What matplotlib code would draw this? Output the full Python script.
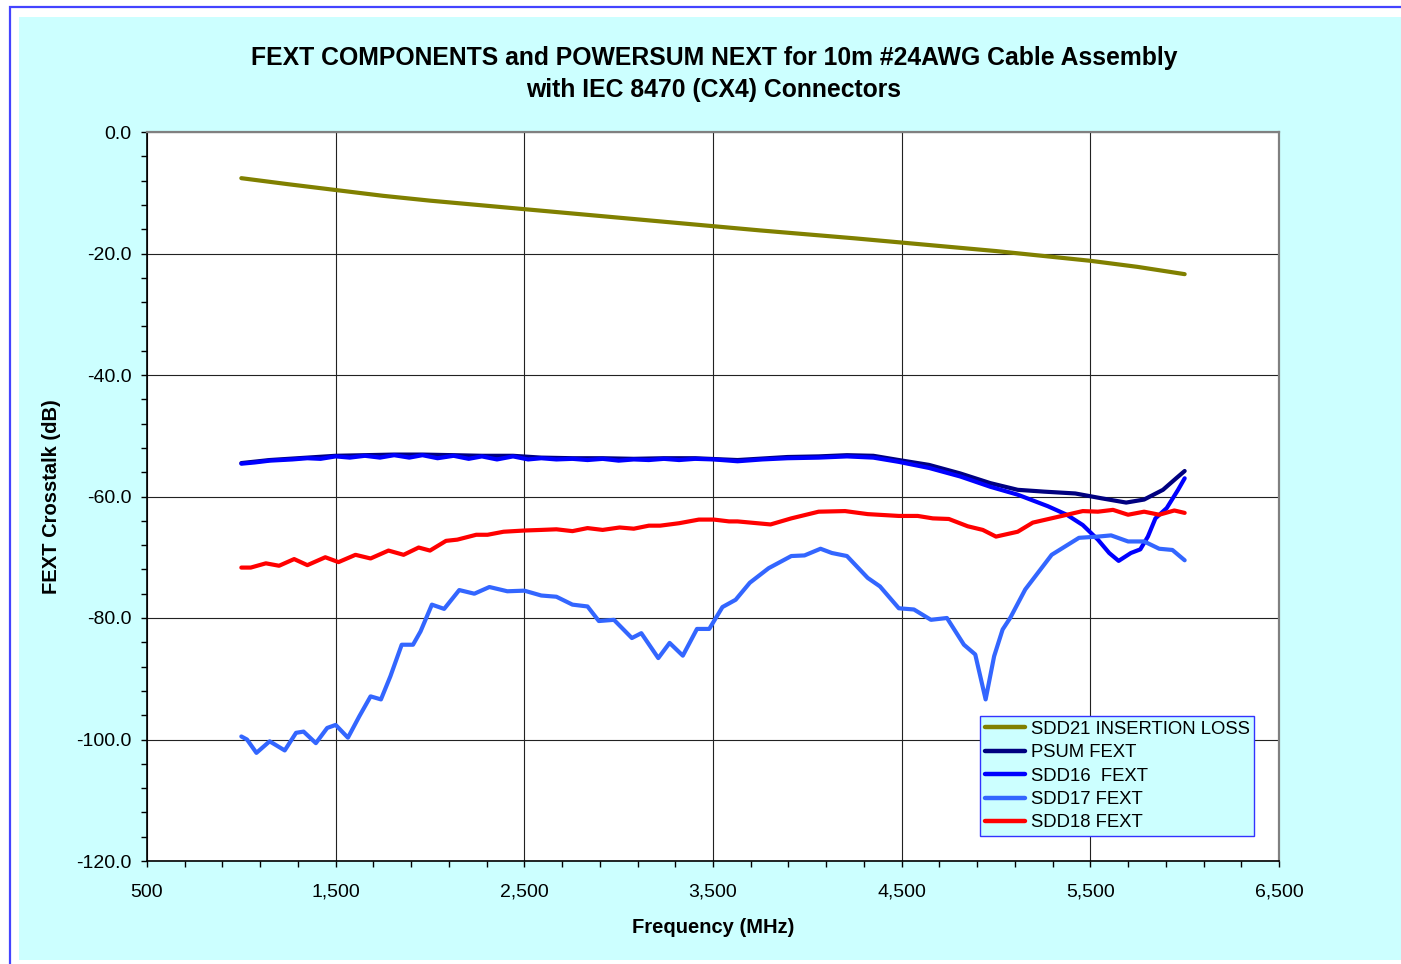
import matplotlib
matplotlib.use("Agg")
import matplotlib.pyplot as plt
from matplotlib.patches import Rectangle
import numpy as np

plt.rcParams.update({
    "font.family": ["Liberation Sans", "DejaVu Sans"],
    "font.size": 14,
})

# values
il_mhz = [1000, 1250, 1500, 1750, 2000, 2250, 2500, 2750, 3000, 3250, 3500,
          3750, 4000, 4250, 4500, 4750, 5000, 5250, 5500, 5750, 6000]
il_db = [-7.6, -8.6, -9.55, -10.5, -11.3, -12.0, -12.7, -13.4, -14.1, -14.8, -15.5,
         -16.2, -16.85, -17.5, -18.2, -18.9, -19.6, -20.4, -21.2, -22.2, -23.4]

psum_mhz = [1000, 1150, 1350, 1500, 1655, 1810, 1960, 2125, 2275, 2440,
            2590, 2755, 2915, 3080, 3240, 3405, 3630, 3895, 4060, 4210,
            4350, 4485, 4645, 4810, 4970, 5115, 5255, 5420, 5560, 5690,
            5785, 5885, 5955, 6000]
psum_db = [-54.5, -54.0, -53.6, -53.3, -53.2, -53.1, -53.1, -53.2, -53.3, -53.3,
           -53.6, -53.7, -53.7, -53.8, -53.7, -53.7, -54.0, -53.5, -53.4, -53.2,
           -53.3, -54.0, -54.8, -56.2, -57.8, -58.9, -59.2, -59.5, -60.3, -61.0,
           -60.5, -58.9, -57.0, -55.8]

sdd16_mhz = [1000, 1070, 1150, 1270, 1350, 1420, 1500, 1575, 1655, 1735,
             1810, 1890, 1960, 2040, 2125, 2205, 2275, 2355, 2440, 2520,
             2590, 2670, 2755, 2835, 2915, 3000, 3080, 3160, 3240, 3320,
             3405, 3505, 3630, 3760, 3895, 4060, 4210, 4350, 4485, 4645,
             4810, 4970, 5115, 5275, 5375, 5460, 5540, 5600, 5650, 5715,
             5765, 5805, 5845, 5905, 5965, 6000]
sdd16_db = [-54.6, -54.4, -54.1, -53.9, -53.7, -53.8, -53.4, -53.6, -53.3, -53.6,
            -53.2, -53.6, -53.2, -53.7, -53.3, -53.8, -53.4, -53.9, -53.4, -53.9,
            -53.7, -53.9, -53.8, -54.0, -53.8, -54.1, -53.9, -54.0, -53.8, -54.0,
            -53.8, -53.9, -54.2, -53.9, -53.7, -53.6, -53.4, -53.6, -54.3, -55.3,
            -56.7, -58.4, -59.7, -61.6, -63.0, -64.7, -67.1, -69.3, -70.6, -69.3,
            -68.7, -66.6, -63.6, -61.9, -58.9, -57.0]

sdd17_mhz = [1000, 1030, 1080, 1150, 1230, 1290, 1330, 1395, 1455, 1500,
             1565, 1625, 1685, 1740, 1790, 1850, 1910, 1950, 2010, 2075,
             2155, 2235, 2315, 2410, 2500, 2590, 2670, 2755, 2835, 2895,
             2975, 3070, 3120, 3210, 3270, 3340, 3415, 3480, 3550, 3620,
             3695, 3795, 3915, 3985, 4070, 4130, 4210, 4320, 4385, 4485,
             4565, 4655, 4740, 4830, 4890, 4945, 4990, 5035, 5075, 5155,
             5295, 5440, 5540, 5610, 5700, 5785, 5865, 5935, 6000]
sdd17_db = [-99.5, -100.0, -102.2, -100.3, -101.8, -98.9, -98.7, -100.6, -98.1, -97.6,
            -99.7, -96.2, -92.9, -93.4, -89.6, -84.4, -84.4, -82.2, -77.8, -78.5,
            -75.4, -76.0, -74.9, -75.6, -75.5, -76.3, -76.5, -77.8, -78.1, -80.5,
            -80.3, -83.3, -82.5, -86.6, -84.1, -86.2, -81.8, -81.8, -78.2, -77.0,
            -74.2, -71.8, -69.8, -69.7, -68.6, -69.3, -69.8, -73.4, -74.8, -78.4,
            -78.6, -80.3, -80.0, -84.4, -86.0, -93.4, -86.3, -81.9, -80.0, -75.3,
            -69.6, -66.8, -66.6, -66.4, -67.4, -67.4, -68.6, -68.8, -70.5]

sdd18_mhz = [1000, 1050, 1130, 1200, 1280, 1350, 1445, 1515, 1605, 1685,
             1780, 1860, 1940, 2000, 2085, 2145, 2245, 2305, 2390, 2500,
             2590, 2670, 2755, 2835, 2915, 3005, 3080, 3160, 3220, 3320,
             3425, 3505, 3585, 3630, 3805, 3915, 4060, 4200, 4320, 4485,
             4585, 4665, 4750, 4850, 4930, 5000, 5115, 5195, 5335, 5460,
             5540, 5620, 5700, 5785, 5865, 5945, 6000]
sdd18_db = [-71.7, -71.7, -71.0, -71.4, -70.3, -71.3, -70.0, -70.8, -69.6, -70.2,
            -68.9, -69.6, -68.4, -68.9, -67.3, -67.1, -66.3, -66.3, -65.8, -65.6,
            -65.5, -65.4, -65.7, -65.2, -65.5, -65.1, -65.3, -64.8, -64.8, -64.4,
            -63.8, -63.8, -64.1, -64.1, -64.6, -63.6, -62.5, -62.4, -62.9, -63.2,
            -63.2, -63.6, -63.7, -64.9, -65.5, -66.6, -65.8, -64.3, -63.3, -62.4,
            -62.5, -62.2, -63.0, -62.5, -63.0, -62.3, -62.7]

series = [
    (il_mhz, il_db, "#808000", "SDD21 INSERTION LOSS"),
    (psum_mhz, psum_db, "#000080", "PSUM FEXT"),
    (sdd16_mhz, sdd16_db, "#0000FF", "SDD16  FEXT"),
    (sdd17_mhz, sdd17_db, "#3366FF", "SDD17 FEXT"),
    (sdd18_mhz, sdd18_db, "#FF0000", "SDD18 FEXT"),
]

W, H = 1401, 964
fig = plt.figure(figsize=(W / 100, H / 100), dpi=100, facecolor="white")

# outer blue frame and cyan chart area, behind the axes
fig.patches.append(Rectangle((10 / W, -0.1), 1.2, 1 - 7 / H + 0.1, transform=fig.transFigure,
                             facecolor="none", edgecolor="#4444FF", linewidth=1.6, zorder=-10))
fig.patches.append(Rectangle((19 / W, 1 - 960 / H), 1.0, (960 - 17) / H, transform=fig.transFigure,
                             facecolor="#CCFFFF", edgecolor="none", zorder=-9))

ax = fig.add_axes([147 / W, 1 - 861 / H, 1132 / W, 729 / H])
ax.set_facecolor("white")

for x, y, c, lab in series:
    ax.plot(x, y, color=c, lw=3.0, label=lab, solid_joinstyle="round", solid_capstyle="round")

ax.set_xlim(500, 6500)
ax.set_ylim(-120, 0)
ax.set_xticks(np.arange(500, 6501, 1000))
ax.set_xticks(np.arange(500, 6501, 200), minor=True)
ax.set_yticks(np.arange(-120, 1, 20))
ax.set_yticks(np.arange(-120, 1, 4), minor=True)
ax.set_xticklabels([f"{v:,}" for v in range(500, 6501, 1000)])
ax.set_yticklabels([f"{v:.1f}" for v in range(-120, 1, 20)])
ax.tick_params(axis="both", which="major", length=4, width=1, labelsize=14, colors="black")
ax.tick_params(axis="both", which="minor", length=4, width=1)
ax.tick_params(axis="y", pad=7)
ax.tick_params(axis="x", pad=12.5)

ax.grid(True, which="major", color="#222222", linewidth=0.8)
ax.set_axisbelow(True)
for s in ["left", "bottom"]:
    ax.spines[s].set_color("black")
    ax.spines[s].set_linewidth(1.2)
for s in ["top", "right"]:
    ax.spines[s].set_color("#808080")
    ax.spines[s].set_linewidth(1.6)

ax.set_xlabel("Frequency (MHz)", fontsize=14.5, fontweight="bold", labelpad=12)
ax.set_ylabel("FEXT Crosstalk (dB)", fontsize=14.5, fontweight="bold", labelpad=11)

fig.text(714 / W, 1 - 58 / H, "FEXT COMPONENTS and POWERSUM NEXT for 10m #24AWG Cable Assembly",
         ha="center", va="center", fontsize=17.85, fontweight="bold")
fig.text(714 / W, 1 - 90 / H, "with IEC 8470 (CX4) Connectors",
         ha="center", va="center", fontsize=17.85, fontweight="bold")

leg = ax.legend(loc="upper left", bbox_to_anchor=(980 / W, 1 - 716 / H), bbox_transform=fig.transFigure,
                borderaxespad=0, fontsize=13.3, handlelength=2.2, handletextpad=0.3,
                borderpad=0.25, labelspacing=0.35, fancybox=False, framealpha=1)
leg.get_frame().set_facecolor("#CCFFFF")
leg.get_frame().set_edgecolor("#3333FF")
leg.get_frame().set_linewidth(1.0)
for line in leg.get_lines():
    line.set_linewidth(3.2)

fig.savefig("out.png", dpi=100)
